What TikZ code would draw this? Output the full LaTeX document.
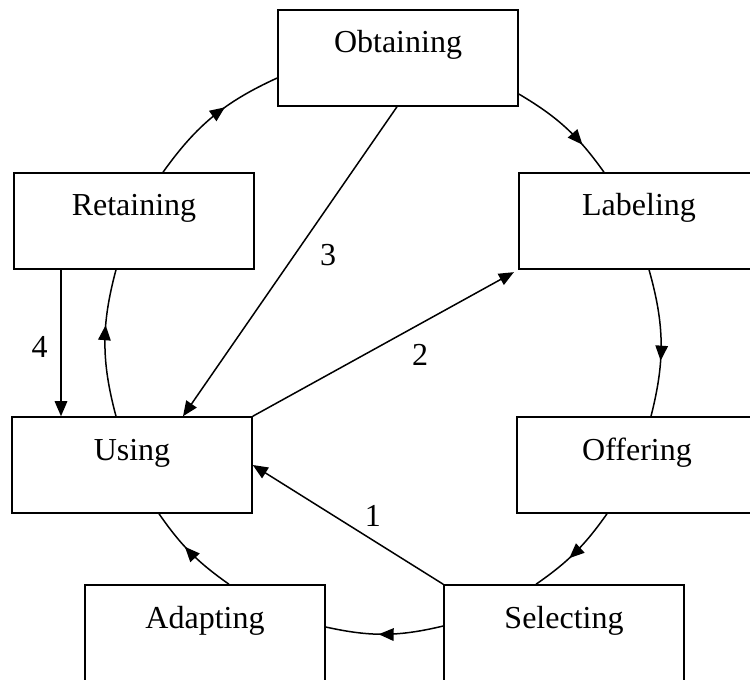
\documentclass[tikz,border=0pt]{standalone}
\usepackage{fontspec}
\setmainfont{Liberation Serif}
\usetikzlibrary{arrows.meta,calc,positioning,decorations.markings}

\begin{document}
\begin{tikzpicture}[x=0.4pt,y=0.4pt,>={Triangle[length=6pt,width=5pt]},line width=0.6pt,
    font=\fontsize{12.8pt}{15pt}\selectfont,
    stage/.style={draw,minimum width=96pt,inner xsep=0pt,inner ysep=8.8pt,text height=8.4pt,text depth=12.4pt},
    num/.style={inner sep=2pt},
    midarrow/.style={postaction={decorate},decoration={markings,mark=at position #1 with {\arrow{>}}}}]
    \useasboundingbox (0,0) rectangle (750,679);
    \clip (0,0) rectangle (750,679);
    \node[stage] (obt) at (398,621) {Obtaining};
    \node[stage] (ret) at (134,458) {Retaining};
    \node[stage] (lab) at (639,458) {Labeling};
    \node[stage] (usi) at (132,214) {Using};
    \node[stage] (off) at (637,214) {Offering};
    \node[stage] (ada) at (205,46) {Adapting};
    \node[stage] (sel) at (564,46) {Selecting};
    % the cycle
    \draw[midarrow=0.6] ($(ret.north)+(29,0)$) to[bend left=15] ($(obt.west)+(0,-20)$);
    \draw[midarrow=0.7] ($(obt.east)+(0,-36)$) to[bend left=12] ($(lab.north)+(-35,0)$);
    \draw[midarrow=0.62] ($(lab.south)+(10,0)$) to[bend left=15] ($(off.north)+(14,0)$);
    \draw[midarrow=0.58] ($(off.south)+(-30,0)$) to[bend left=10] ($(sel.north)+(-28,0)$);
    \draw[midarrow=0.55] ($(sel.west)+(0,7)$) to[bend left=13] ($(ada.east)+(0,6)$);
    \draw[midarrow=0.58] ($(ada.north)+(24,0)$) to[bend left=10] ($(usi.south)+(27,0)$);
    \draw[midarrow=0.62] ($(usi.north)+(-16,0)$) to[bend left=15] ($(ret.south)+(-18,0)$);
    % numbered shortcuts
    \draw[->] (sel.north west) -- node[num,pos=0.37,above=3pt] {1} (usi.east);
    \draw[->,shorten >=2pt] (usi.north east) -- node[num,pos=0.63,below=6pt] {2} (lab.south west);
    \draw[->] ($(obt.south)+(-1,0)$) -- node[num,pos=0.48,right=8pt] {3} ($(usi.north)+(51,0)$);
    \draw[->] ($(ret.south)+(-73,0)$) -- node[num,pos=0.53,left=3pt] {4} ($(usi.north)+(-71,0)$);
\end{tikzpicture}
\end{document}
